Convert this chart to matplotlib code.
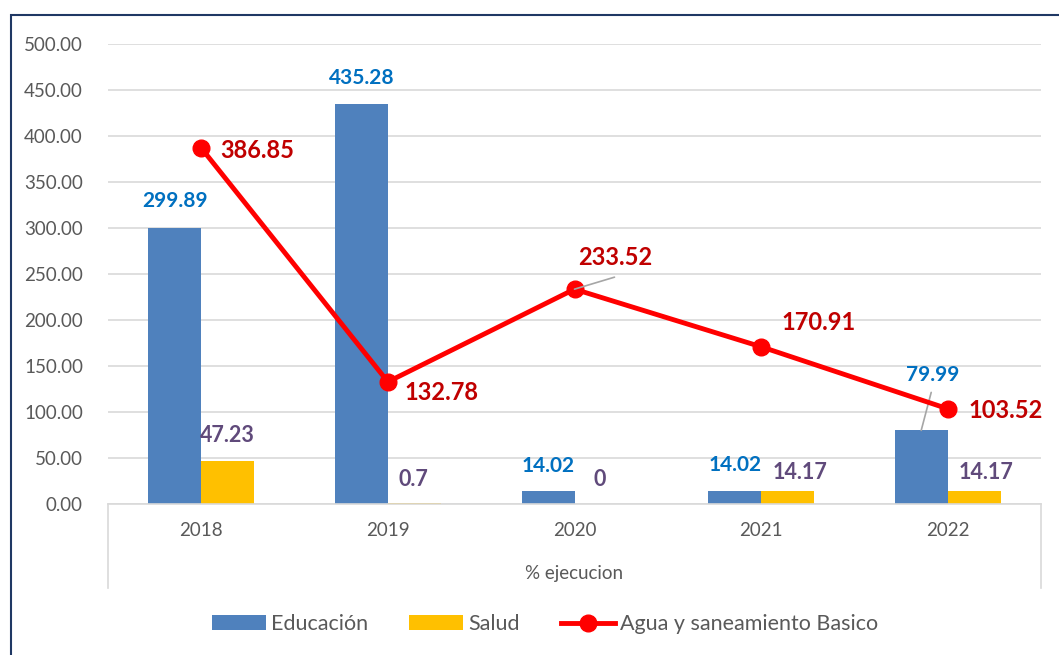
import matplotlib.pyplot as plt
import numpy as np
from matplotlib.patches import Rectangle

plt.rcParams['font.family'] = ['Lato', 'DejaVu Sans']

anios = ["2018", "2019", "2020", "2021", "2022"]
educacion = [299.89, 435.28, 14.02, 14.02, 79.99]
salud = [47.23, 0.7, 0, 14.17, 14.17]
agua = [386.85, 132.78, 233.52, 170.91, 103.52]
eje_nivel2 = "% ejecucion"

# desplazamientos de las etiquetas (pixeles)
off_edu = [(0, 27), (0, 26), (0, 25), (1, 26), (11, 55)]
off_sal = [(0, 25), (-1, 24), (-1, 24), (12, 18), (12, 18)]
off_agua = [(56, -2), (54, -11), (41, 32), (58, 24), (58, -2)]

fig = plt.figure(figsize=(10.59, 6.55), dpi=100)
ax = fig.add_axes([108/1059, 1-504/655, (1041-108)/1059, 460/655])

x = np.arange(len(anios))
w = 0.284
b1 = ax.bar(x - w/2, educacion, w, color="#4F81BD", label="Educación", zorder=2)
b2 = ax.bar(x + w/2, salud, w, color="#FFC000", label="Salud", zorder=2)
ln, = ax.plot(x, agua, color="#FF0000", lw=3.5, marker="o", markersize=12,
              label="Agua y saneamiento Basico", zorder=4)

ax.set_xlim(-0.5, 4.5)
ax.set_ylim(0, 500)
ax.set_yticks(np.arange(0, 501, 50))
ax.set_yticklabels([f"{v:.2f}" for v in np.arange(0, 501, 50)])
ax.set_xticks(x)
ax.set_xticklabels(anios)
ax.tick_params(axis="both", length=0, labelsize=13.5, labelcolor="#595959")
ax.tick_params(axis="x", pad=13)
ax.tick_params(axis="y", pad=18)
ax.grid(axis="y", color="#D9D9D9", lw=1.2, zorder=0)
ax.set_axisbelow(True)
for s in ["top", "right", "left"]:
    ax.spines[s].set_visible(False)
ax.spines["bottom"].set_color("#D9D9D9")
ax.spines["bottom"].set_linewidth(1.2)

# eje de categorias en dos niveles
tr = ax.get_xaxis_transform()
for xv in [-0.5, 4.5]:
    ax.plot([xv, xv], [0, -0.183], color="#D9D9D9", lw=1.2, transform=tr, clip_on=False)
ax.text(0.5, -0.152, eje_nivel2, transform=ax.transAxes, ha="center", va="center",
        fontsize=13.5, color="#595959")

for i in range(len(anios)):
    ax.annotate(f"{educacion[i]:g}", (x[i] - w/2, educacion[i]), xytext=off_edu[i],
                textcoords="offset pixels", ha="center", va="center",
                fontsize=15, fontweight="bold", color="#0070C0", zorder=5)
    ax.annotate(f"{salud[i]:g}", (x[i] + w/2, salud[i]), xytext=off_sal[i],
                textcoords="offset pixels", ha="center", va="center",
                fontsize=15.5, fontweight="bold", color="#604A7B", zorder=5)
    ax.annotate(f"{agua[i]:g}", (x[i], agua[i]), xytext=off_agua[i],
                textcoords="offset pixels", ha="center", va="center",
                fontsize=17, fontweight="bold", color="#C00000", zorder=5)

# lineas guia
ax.annotate("", (x[4] - w/2, educacion[4]), xytext=(10, 38), textcoords="offset pixels",
            arrowprops=dict(arrowstyle="-", color="#A6A6A6", lw=1.2, shrinkA=0, shrinkB=0))
ax.annotate("", (x[2], agua[2]), xytext=(40, 12), textcoords="offset pixels",
            arrowprops=dict(arrowstyle="-", color="#A6A6A6", lw=1.2, shrinkA=0, shrinkB=0),
            zorder=5)

fig.legend(handles=[b1, b2, ln], loc="center", bbox_to_anchor=(545/1059, 1-624/655),
           ncol=3, frameon=False, fontsize=15.5, handlelength=2.5, handleheight=0.65,
           handletextpad=0.25, columnspacing=1.9, labelcolor="#595959")

fig.patches.append(Rectangle((11/1059, -0.5), 1.5, 0.5 + 1 - 15/655, transform=fig.transFigure,
                             fill=False, edgecolor="#1F3864", lw=1.5))

fig.savefig("out.png", dpi=100)
